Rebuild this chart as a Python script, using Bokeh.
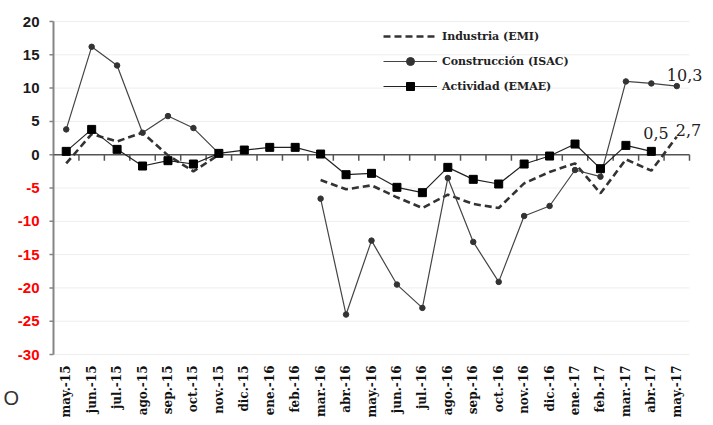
import math
from bokeh.plotting import figure
from bokeh.models import Label, Legend, LegendItem, Range1d
from bokeh.core.properties import value
from bokeh.embed import file_html
from bokeh.resources import INLINE

nan = float("nan")

months = ["may.-15", "jun.-15", "jul.-15", "ago.-15", "sep.-15", "oct.-15",
          "nov.-15", "dic.-15", "ene.-16", "feb.-16", "mar.-16", "abr.-16",
          "may.-16", "jun.-16", "jul.-16", "ago.-16", "sep.-16", "oct.-16",
          "nov.-16", "dic.-16", "ene.-17", "feb.-17", "mar.-17", "abr.-17",
          "may.-17"]

industria_emi = [-1.3, 3.1, 2.0, 3.3, -0.1, -2.5, 0.0, nan, nan, nan,
                 -3.8, -5.2, -4.6, -6.4, -8.0, -6.0, -7.4, -8.0,
                 -4.3, -2.6, -1.3, -5.8, -0.7, -2.4, 2.7]

construccion_isac = [3.8, 16.2, 13.4, 3.3, 5.8, 4.0, 0.2, nan, nan, nan,
                     -6.6, -24.0, -12.9, -19.5, -23.0, -3.5, -13.1, -19.1,
                     -9.2, -7.7, -2.3, -3.3, 11.0, 10.7, 10.3]

actividad_emae = [0.5, 3.8, 0.8, -1.7, -0.9, -1.4, 0.2, 0.7, 1.1, 1.1,
                  0.1, -3.0, -2.8, -4.9, -5.7, -1.9, -3.7, -4.4,
                  -1.4, -0.2, 1.6, -2.1, 1.4, 0.5, nan]

y_ticks = [20, 15, 10, 5, 0, -5, -10, -15, -20, -25, -30]
y_tick_labels = [str(t) for t in y_ticks]
y_tick_colors = ["#1a1a1a" if t >= 0 else "#ff0000" for t in y_ticks]

series_names = ["Industria (EMI)", "Construcción (ISAC)", "Actividad (EMAE)"]

# ---- layout constants (pixels) ----
W, H = 713, 425
LEFT, RIGHT, TOP, BOTTOM = 53, 24, 21, 71
AREA_W = W - LEFT - RIGHT
AREA_H = H - TOP - BOTTOM

x = list(range(len(months)))
n = len(months)
ymin, ymax = min(y_ticks), max(y_ticks)
upp = (ymax - ymin) / AREA_H     # y units per pixel
xupp = n / AREA_W                # x units per pixel
xl, xr = -0.5, n - 0.5

p = figure(width=W, height=H,
           x_range=Range1d(xl - LEFT * xupp, xr + RIGHT * xupp),
           y_range=Range1d(ymin - BOTTOM * upp, ymax + TOP * upp),
           output_backend="svg", toolbar_location=None,
           min_border_left=0, min_border_right=0,
           min_border_top=0, min_border_bottom=0)
p.outline_line_color = None
p.background_fill_color = "white"
p.border_fill_color = "white"
p.xaxis.visible = False
p.yaxis.visible = False
p.grid.visible = False

nt = len(y_ticks)
# faint horizontal grid
p.segment(x0=[xl] * nt, y0=y_ticks, x1=[xr] * nt, y1=y_ticks,
          line_color="#eeeeee", line_width=1)

# value axis: line, ticks, labels (positive black, negative red)
p.segment(x0=[xl], y0=[ymin], x1=[xl], y1=[ymax],
          line_color="#858585", line_width=2)
p.segment(x0=[xl - 4 * xupp] * nt, y0=y_ticks, x1=[xl] * nt, y1=y_ticks,
          line_color="#858585", line_width=1.5)
p.text(x=[xl - 14 * xupp] * nt, y=y_ticks, text=y_tick_labels,
       text_align="right", text_baseline="middle", text_color=y_tick_colors,
       text_font_size="15px", text_font_style="bold",
       text_font=value("Liberation Sans"))

# category axis: zero line with tick marks between categories
p.segment(x0=[xl], y0=[0], x1=[xr], y1=[0],
          line_color="#555555", line_width=1.5)
xt = [i + 0.5 for i in x]
p.segment(x0=xt, y0=[0] * n, x1=xt, y1=[-6 * upp] * n,
          line_color="#555555", line_width=1.5)
# category labels at the bottom, vertical
p.text(x=x, y=[ymin - 11 * upp] * n, text=months, angle=math.pi / 2,
       text_align="right", text_baseline="middle",
       text_font=value("DejaVu Serif"), text_font_style="bold",
       text_font_size="12px", text_color="#111111")

# series
r_emi = p.line(x, industria_emi, line_dash="7 4", line_width=2.6,
               line_color="#333333")
r_isac_l = p.line(x, construccion_isac, line_width=1.2, line_color="#444444")
r_isac_m = p.scatter(x, construccion_isac, marker="circle", size=5.5,
                     color="#333333")
r_emae_l = p.line(x, actividad_emae, line_width=1.2, line_color="#222222")
r_emae_m = p.scatter(x, actividad_emae, marker="square", size=8,
                     color="#000000")

legend = Legend(items=[
    LegendItem(label=series_names[0], renderers=[r_emi]),
    LegendItem(label=series_names[1], renderers=[r_isac_l, r_isac_m]),
    LegendItem(label=series_names[2], renderers=[r_emae_l, r_emae_m]),
], location=(383, 329))
legend.background_fill_alpha = 0
legend.border_line_color = None
legend.padding = 0
legend.margin = 0
legend.spacing = 5
legend.glyph_width = 54
legend.glyph_height = 20
legend.label_height = 20
legend.label_standoff = 5
legend.label_text_font = "DejaVu Serif"
legend.label_text_font_style = "bold"
legend.label_text_font_size = "11px"
legend.label_text_color = "#222222"
p.add_layout(legend)

# value callouts
val_font = dict(text_font="DejaVu Serif", text_font_size="16px",
                text_color="#222222", text_baseline="middle")
p.add_layout(Label(x=x[24], y=construccion_isac[24], text="10,3",
                   x_offset=-10, y_offset=11, **val_font))
p.add_layout(Label(x=x[23], y=actividad_emae[23], text="0,5",
                   x_offset=-8, y_offset=18, **val_font))
p.add_layout(Label(x=x[24], y=industria_emi[24], text="2,7",
                   x_offset=-1, y_offset=7, **val_font))

# stray cut-off text at the bottom left of the source image
p.add_layout(Label(x=xl - (LEFT - 3) * xupp, y=ymax - (397 - TOP) * upp,
                   text="O", text_font="Liberation Sans",
                   text_font_size="20px", text_color="#333333",
                   text_baseline="middle"))

open("out.html", "w").write(file_html(p, INLINE))
